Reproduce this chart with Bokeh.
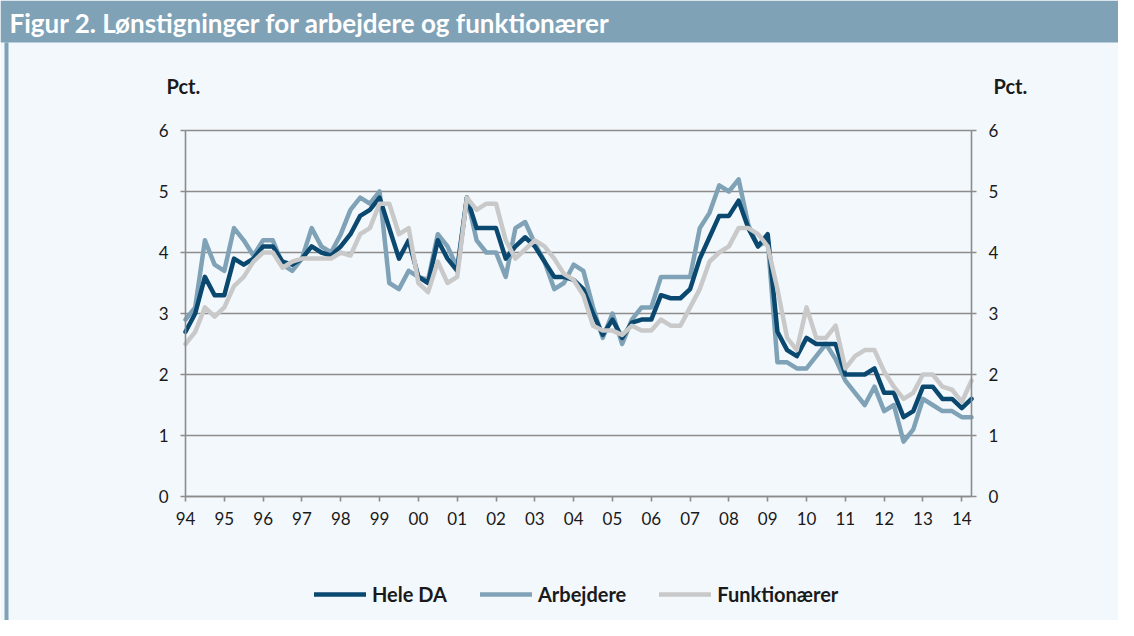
from bokeh.plotting import figure
from bokeh.models import Legend, LegendItem, FixedTicker, LinearAxis, Range1d, Label, BoxAnnotation
from bokeh.embed import file_html
from bokeh.resources import INLINE

# ---------------- data (quarterly, 1994K1 - 2014K2) ----------------
START_YEAR = 1994
hele_da = [
    2.7, 3.0, 3.6, 3.3, 3.3, 3.9, 3.8, 3.9,
    4.1, 4.1, 3.85, 3.8, 3.9, 4.1, 4.0, 3.95,
    4.1, 4.3, 4.6, 4.7, 4.9, 4.4, 3.9, 4.2,
    3.6, 3.5, 4.2, 3.9, 3.7, 4.9, 4.4, 4.4,
    4.4, 3.9, 4.1, 4.25, 4.1, 3.85, 3.6, 3.6,
    3.55, 3.4, 3.0, 2.65, 2.9, 2.6, 2.85, 2.9,
    2.9, 3.3, 3.25, 3.25, 3.4, 3.9, 4.25, 4.6,
    4.6, 4.85, 4.4, 4.1, 4.3, 2.7, 2.4, 2.3,
    2.6, 2.5, 2.5, 2.5, 2.0, 2.0, 2.0, 2.1,
    1.7, 1.7, 1.3, 1.4, 1.8, 1.8, 1.6, 1.6,
    1.45, 1.6,
]
arbejdere = [
    2.9, 3.1, 4.2, 3.8, 3.7, 4.4, 4.2, 3.95,
    4.2, 4.2, 3.8, 3.7, 3.9, 4.4, 4.1, 4.0,
    4.3, 4.7, 4.9, 4.8, 5.0, 3.5, 3.4, 3.7,
    3.6, 3.55, 4.3, 4.1, 3.75, 4.9, 4.2, 4.0,
    4.0, 3.6, 4.4, 4.5, 4.15, 3.85, 3.4, 3.5,
    3.8, 3.7, 3.1, 2.6, 3.0, 2.5, 2.9, 3.1,
    3.1, 3.6, 3.6, 3.6, 3.6, 4.4, 4.65, 5.1,
    5.0, 5.2, 4.45, 4.1, 4.2, 2.2, 2.2, 2.1,
    2.1, 2.3, 2.5, 2.25, 1.9, 1.7, 1.5, 1.8,
    1.4, 1.5, 0.9, 1.1, 1.6, 1.5, 1.4, 1.4,
    1.3, 1.3,
]
funktionaerer = [
    2.5, 2.7, 3.1, 2.95, 3.1, 3.45, 3.6, 3.85,
    4.0, 4.0, 3.75, 3.85, 3.9, 3.9, 3.9, 3.9,
    4.0, 3.95, 4.3, 4.4, 4.8, 4.8, 4.3, 4.4,
    3.5, 3.35, 3.85, 3.5, 3.6, 4.9, 4.7, 4.8,
    4.8, 4.2, 3.9, 4.05, 4.2, 4.1, 3.9, 3.65,
    3.55, 3.3, 2.8, 2.72, 2.72, 2.65, 2.8, 2.72,
    2.72, 2.9, 2.8, 2.8, 3.1, 3.4, 3.85, 4.0,
    4.1, 4.4, 4.4, 4.3, 4.1, 3.4, 2.6, 2.4,
    3.1, 2.6, 2.6, 2.8, 2.1, 2.3, 2.4, 2.4,
    2.05, 1.8, 1.6, 1.7, 2.0, 2.0, 1.8, 1.75,
    1.55, 1.9,
]
series_names = ["Hele DA", "Arbejdere", "Funktionærer"]
year_ticks = list(range(1994, 2015))
year_labels = ["94", "95", "96", "97", "98", "99", "00", "01", "02", "03", "04",
               "05", "06", "07", "08", "09", "10", "11", "12", "13", "14"]
y_ticks = [0, 1, 2, 3, 4, 5, 6]
TITLE = "Figur 2. Lønstigninger for arbejdere og funktionærer"
UNIT = "Pct."

x = [START_YEAR + i / 4 for i in range(len(hele_da))]
X0, X1 = x[0], x[-1]
Y0, Y1 = y_ticks[0], y_ticks[-1]

# ---------------- layout (canvas pixels) ----------------
W, H = 1118, 620
PL, PR, PT, PB = 185, 971, 130, 496          # plot area edges on the canvas
sx = (PR - PL) / (X1 - X0)
sy = (PB - PT) / (Y1 - Y0)
x_start, x_end = X0 - PL / sx, X1 + (W - PR) / sx
y_start, y_end = Y0 - (H - PB) / sy, Y1 + PT / sy


def cx(px):
    return x_start + px / sx


def cy(py):
    return y_end - py / sy


# ---------------- styles ----------------
FONT = "Lato"
BAR = "#7fa2b7"
BODY = "#f3f8fc"
C_HELE = "#0a4870"
C_ARB = "#7fa2b7"
C_FUNK = "#c9c9c9"
GRID = "#8c8c8c"
TXT = "#1a1a1a"

p = figure(width=W, height=H, output_backend="svg", toolbar_location=None,
           x_range=Range1d(x_start, x_end), y_range=Range1d(y_start, y_end),
           min_border=0)
p.background_fill_color = BODY
p.border_fill_color = BODY
p.outline_line_color = None
p.grid.visible = False

# title bar and left edge strip
BAR_H = 42
p.add_layout(BoxAnnotation(left=x_start, right=x_end, top=y_end, bottom=cy(BAR_H),
                           fill_color=BAR, fill_alpha=1, line_color=None, level="underlay"))
p.add_layout(BoxAnnotation(left=cx(4), right=cx(8), top=cy(BAR_H), bottom=y_start,
                           fill_color=BAR, fill_alpha=1, line_color=None, level="underlay"))
p.add_layout(Label(x=9, y=H - 22, x_units="screen", y_units="screen", text=TITLE,
                   text_color="white", text_font=FONT, text_font_size="26px",
                   text_font_style="bold", text_baseline="middle"))

# horizontal grid lines (between the two value axes)
p.segment(x0=[X0] * len(y_ticks), x1=[X1] * len(y_ticks), y0=y_ticks, y1=y_ticks,
          line_color=GRID, line_width=1.6)

r_arb = p.line(x, arbejdere, line_color=C_ARB, line_width=4.5, line_join="round", line_cap="round")
r_hele = p.line(x, hele_da, line_color=C_HELE, line_width=4.5, line_join="round", line_cap="round")
r_funk = p.line(x, funktionaerer, line_color=C_FUNK, line_width=4.5, line_join="round", line_cap="round")

# axes drawn at fixed data locations
left_axis = p.yaxis[0]
left_axis.fixed_location = X0
right_axis = LinearAxis(fixed_location=X1)
p.add_layout(right_axis, "right")
xa = p.xaxis[0]
xa.fixed_location = Y0

for ax in (left_axis, right_axis):
    ax.ticker = FixedTicker(ticks=y_ticks)
    ax.bounds = (Y0, Y1)
    ax.major_label_standoff = 12
xa.ticker = FixedTicker(ticks=year_ticks)
xa.bounds = (X0, X1)
xa.major_label_overrides = dict(zip(year_ticks, year_labels))
xa.major_label_standoff = 10
for ax in (left_axis, right_axis, xa):
    ax.axis_line_color = GRID
    ax.axis_line_width = 1.6
    ax.major_tick_line_color = GRID
    ax.major_tick_line_width = 1.6
    ax.minor_tick_line_color = None
    ax.major_tick_out = 5
    ax.major_tick_in = 0
    ax.major_label_text_font = FONT
    ax.major_label_text_font_size = "17px"
    ax.major_label_text_color = TXT

# unit labels
for ux in (166, 993):
    p.add_layout(Label(x=ux, y=H - 85, x_units="screen", y_units="screen", text=UNIT,
                       text_font=FONT, text_font_size="20px", text_font_style="bold",
                       text_color=TXT, text_baseline="middle"))

legend = Legend(items=[LegendItem(label=series_names[0], renderers=[r_hele]),
                       LegendItem(label=series_names[1], renderers=[r_arb]),
                       LegendItem(label=series_names[2], renderers=[r_funk])],
                orientation="horizontal", location=(314, 14),
                background_fill_alpha=0, border_line_color=None,
                label_text_font=FONT, label_text_font_size="20px",
                label_text_font_style="bold", label_text_color=TXT,
                glyph_width=52, glyph_height=20, label_standoff=6, spacing=33,
                padding=0, margin=0)
p.add_layout(legend, "center")

open("out.html", "w").write(file_html(p, INLINE))
